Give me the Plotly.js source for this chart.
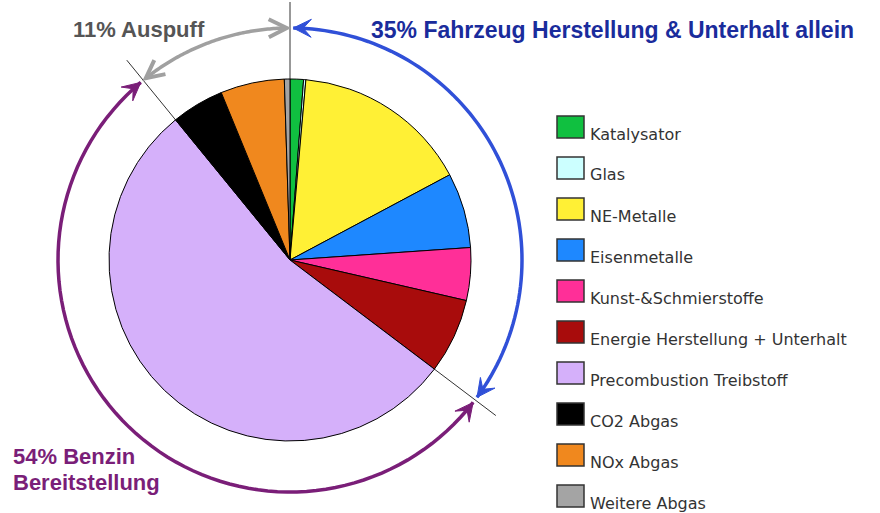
<!DOCTYPE html>
<html>
<head>
<meta charset="utf-8">
<script src="https://cdn.plot.ly/plotly-3.0.1.min.js"></script>
<style>
  html, body { margin: 0; padding: 0; background: #fff; }
  #chart { width: 880px; height: 513px; }
</style>
</head>
<body>
<div id="chart"></div>
<script>
// slice data (percent of total), clockwise from 12 o'clock
const labels = ['Katalysator', 'Glas', 'NE-Metalle', 'Eisenmetalle', 'Kunst-&Schmierstoffe',
                'Energie Herstellung + Unterhalt', 'Precombustion Treibstoff', 'CO2 Abgas', 'NOx Abgas', 'Weitere Abgas'];
const values = [1.2, 0.2, 15.8, 6.7, 4.7, 6.7, 53.8, 4.7, 5.7, 0.5];
const colors = ['#10c040', '#ccffff', '#fff035', '#1e88ff', '#ff2f98', '#a80c0c', '#d5b0fa', '#000000', '#f0881e', '#a4a4a4'];

// groups shown with the arrows around the pie
const groupSizes = [6, 1, 3];
const groupNames = ['35% Fahrzeug Herstellung & Unterhalt allein', '54% Benzin<br>Bereitstellung', '11% Auspuff'];
const groupColors = ['#3050d8', '#7a1e78', '#a0a0a0'];
const groupTextColors = ['#1a2c9c', '#7a1e78', '#555555'];
const groupTextSize = [23, 22, 22];

const W = 880, H = 513;
const cx = 290, cy = 260, r = 181;
const arcR = 232, lineR = 258, gap = 0.8;

function fx(x) { return x / W; }
function fy(y) { return 1 - y / H; }
function pt(deg, rad) {
    const a = deg * Math.PI / 180;
    return [cx + rad * Math.sin(a), cy - rad * Math.cos(a)];
}
function toPath(points, close) {
    let s = points.map((p, i) => (i ? 'L' : 'M') + fx(p[0]).toFixed(5) + ',' + fy(p[1]).toFixed(5)).join(' ');
    return close ? s + ' Z' : s;
}

// arrow head at tip, pointing along d (pixel space)
function arrowHead(tip, d, open) {
    const L = 18, hw = 9;
    const n = [-d[1], d[0]];
    const b1 = [tip[0] - L * d[0] + hw * n[0], tip[1] - L * d[1] + hw * n[1]];
    const b2 = [tip[0] - L * d[0] - hw * n[0], tip[1] - L * d[1] - hw * n[1]];
    const notch = [tip[0] - 0.55 * L * d[0], tip[1] - 0.55 * L * d[1]];
    return open ? toPath([b1, tip, b2], false) : toPath([tip, b1, notch, b2], true);
}

const total = values.reduce((a, b) => a + b, 0);
const bounds = [0];
let idx = 0;
groupSizes.forEach(n => {
    let s = 0;
    for (let k = 0; k < n; k++) s += values[idx++];
    bounds.push(bounds[bounds.length - 1] + s / total * 360);
});

const shapes = [];
const annotations = [];

// separator lines through group boundaries
bounds.slice(0, 3).forEach(b => {
    shapes.push({
        type: 'line', xref: 'paper', yref: 'paper', layer: 'below',
        x0: fx(cx), y0: fy(cy), x1: fx(pt(b, lineR)[0]), y1: fy(pt(b, lineR)[1]),
        line: { color: '#333333', width: 1 }
    });
});

// double-headed arcs
groupSizes.forEach((n, g) => {
    const a0 = bounds[g] + gap, a1 = bounds[g + 1] - gap;
    const pts = [];
    for (let i = 0; i <= 80; i++) pts.push(pt(a0 + (a1 - a0) * i / 80, arcR));
    const open = g === 2;
    shapes.push({ type: 'path', xref: 'paper', yref: 'paper', path: toPath(pts, false),
                  line: { color: groupColors[g], width: 3.5 } });
    const r0 = a0 * Math.PI / 180, r1 = a1 * Math.PI / 180;
    [[pt(a0, arcR), [-Math.cos(r0), -Math.sin(r0)]], [pt(a1, arcR), [Math.cos(r1), Math.sin(r1)]]].forEach(h => {
        shapes.push({
            type: 'path', xref: 'paper', yref: 'paper', path: arrowHead(h[0], h[1], open),
            fillcolor: open ? 'rgba(0,0,0,0)' : groupColors[g],
            line: { color: groupColors[g], width: open ? 4 : 1 }
        });
    });
});

// group captions
const captionPos = [[369, 30], [11, 456], [71, 29]];
groupNames.forEach((name, g) => {
    name.split('<br>').forEach((line, j) => {
        annotations.push({
            xref: 'paper', yref: 'paper', x: fx(captionPos[g][0]), y: fy(captionPos[g][1] + j * 26),
            xanchor: 'left', yanchor: 'middle', showarrow: false,
            text: '<b>' + line + '</b>',
            font: { family: 'Liberation Sans, Arial, sans-serif', size: groupTextSize[g], color: groupTextColors[g] }
        });
    });
});

// legend boxes
labels.forEach((lab, i) => {
    const top = 116 + 41 * i;
    shapes.push({
        type: 'rect', xref: 'paper', yref: 'paper',
        x0: fx(557), x1: fx(584), y0: fy(top), y1: fy(top + 22),
        fillcolor: colors[i], line: { color: '#333333', width: 1.5 }
    });
    annotations.push({
        xref: 'paper', yref: 'paper', x: fx(588), y: fy(top + 18),
        xanchor: 'left', yanchor: 'middle', showarrow: false, text: lab,
        font: { family: 'DejaVu Sans, sans-serif', size: 16, color: '#333333' }
    });
});

const pie = {
    type: 'pie',
    labels: labels,
    values: values,
    sort: false,
    direction: 'clockwise',
    rotation: 0,
    textinfo: 'none',
    hoverinfo: 'label+percent',
    marker: { colors: colors, line: { color: '#000000', width: 1 } },
    domain: { x: [fx(cx - r), fx(cx + r)], y: [fy(cy + r), fy(cy - r)] }
};

const layout = {
    width: W,
    height: H,
    margin: { t: 0, l: 0, r: 0, b: 0 },
    showlegend: false,
    paper_bgcolor: '#ffffff',
    shapes: shapes,
    annotations: annotations
};

Plotly.newPlot('chart', [pie], layout, { displayModeBar: false, staticPlot: true });
</script>
</body>
</html>
